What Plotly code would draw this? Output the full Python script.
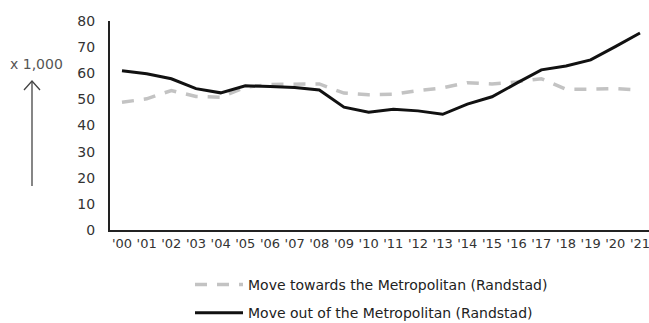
import plotly.graph_objects as go

years = ["'00", "'01", "'02", "'03", "'04", "'05", "'06", "'07", "'08", "'09", "'10",
         "'11", "'12", "'13", "'14", "'15", "'16", "'17", "'18", "'19", "'20", "'21"]
towards = [48.9, 50.2, 53.4, 51.1, 50.8, 54.7, 55.7, 55.9, 55.9, 52.4, 51.8,
           52.0, 53.4, 54.4, 56.4, 55.9, 56.7, 57.9, 53.9, 53.9, 54.1, 53.6]
out_of = [61.0, 59.8, 57.9, 54.1, 52.5, 55.2, 54.9, 54.5, 53.6, 47.0, 45.1,
          46.2, 45.6, 44.3, 48.2, 51.0, 56.2, 61.3, 62.8, 65.1, 70.2, 75.4]
y_ticks = [0, 10, 20, 30, 40, 50, 60, 70, 80]

FONT = "DejaVu Sans"
W, H = 649, 323
L, R, T, B = 110, 0, 21, 93
pw = W - L - R
ph = H - T - B

def px(x):
    return (x - L) / pw

def py(y):
    return (H - B - y) / ph

fig = go.Figure()
fig.add_trace(go.Scatter(
    x=years, y=towards, mode="lines",
    name="Move towards the Metropolitan (Randstad)",
    line=dict(color="#c3c3c3", width=3.5, dash="12px,10px"),
    legendgroup="a"))
fig.add_trace(go.Scatter(
    x=years, y=out_of, mode="lines",
    name="Move out of the Metropolitan (Randstad)",
    line=dict(color="#111111", width=3),
    legendgroup="b"))

fig.update_layout(
    width=W, height=H,
    margin=dict(l=L, r=R, t=T, b=B, autoexpand=False),
    plot_bgcolor="white", paper_bgcolor="white",
    font=dict(family=FONT, size=13, color="#333333"),
    showlegend=True,
    legend=dict(xref="container", yref="container",
                x=190 / W, y=(H - 269) / H, xanchor="left", yanchor="top",
                font=dict(size=14, color="#222222"),
                tracegroupgap=7, itemwidth=48, bgcolor="rgba(0,0,0,0)"),
    xaxis=dict(type="category", range=[-0.486, 21.365], showgrid=False,
               showline=True, linecolor="#222222", linewidth=2,
               ticks="", tickfont=dict(size=13, color="#333333"),
               zeroline=False, fixedrange=True),
    yaxis=dict(range=[0, 80], tickvals=y_ticks, showgrid=False,
               showline=True, linecolor="#222222", linewidth=2,
               ticks="", ticklabelstandoff=10,
               tickfont=dict(size=14, color="#333333"),
               zeroline=False, fixedrange=True),
)

fig.add_annotation(text="x 1,000", xref="paper", yref="paper",
                   x=px(36), y=py(64), showarrow=False,
                   xanchor="center", yanchor="middle",
                   font=dict(size=14, color="#555555", family=FONT))
# arrow
fig.add_shape(type="line", xref="paper", yref="paper",
              x0=px(32), x1=px(32), y0=py(186), y1=py(81),
              line=dict(color="#444444", width=1.3))
fig.add_shape(type="path", xref="paper", yref="paper",
              path=f"M {px(24)},{py(90)} L {px(32)},{py(81)} L {px(40)},{py(90)}",
              line=dict(color="#444444", width=1.3))

fig.write_html("out.html")
